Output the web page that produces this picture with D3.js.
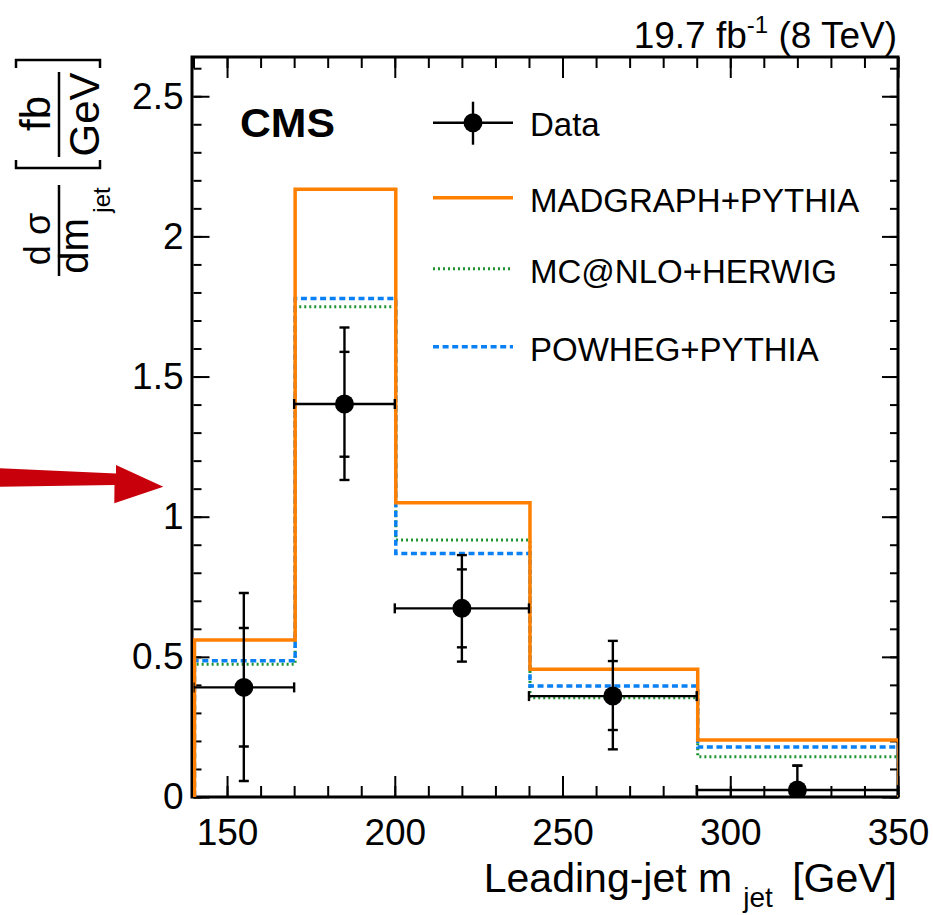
<!DOCTYPE html>
<html>
<head>
<meta charset="utf-8">
<script src="https://cdn.jsdelivr.net/npm/d3@7"></script>
<style>
  body { margin: 0; background: #fff; }
  text { font-family: "Liberation Sans", Arial, Helvetica, sans-serif; fill: #000; }
</style>
</head>
<body>
<svg id="chart" width="933" height="915"></svg>
<script>
// Leading-jet mass bins [GeV]
const binEdges = [140, 170, 200, 240, 290, 350];

// Predictions, dsigma/dm [fb/GeV]
const madgraph = [0.560, 2.168, 1.050, 0.456, 0.203];
const mcatnlo  = [0.474, 1.749, 0.917, 0.354, 0.144];
const powheg   = [0.486, 1.778, 0.869, 0.396, 0.178];

// Measured cross sections with stat (inner) and total (outer) bands
const dataX  = [155, 185, 220, 265, 320];
const dataY  = [0.391, 1.402, 0.673, 0.360, 0.025];
const statLo = [0.180, 1.214, 0.534, 0.239, 0.000];
const statHi = [0.603, 1.588, 0.812, 0.485, 0.112];
const totLo  = [0.057, 1.131, 0.483, 0.170, 0.000];
const totHi  = [0.728, 1.675, 0.863, 0.557, 0.112];

const xTicks = [150, 200, 250, 300, 350];
const yTicks = [0, 0.5, 1, 1.5, 2, 2.5];
const xMinor = d3.range(140, 351, 10);
const yMinor = d3.range(0, 2.65, 0.1);

const legendLabels = ["Data", "MADGRAPH+PYTHIA", "MC@NLO+HERWIG", "POWHEG+PYTHIA"];

const colors = { madgraph: "#ff8000", mcatnlo: "#1e9432", powheg: "#0a80f5", arrow: "#c8000b" };

const svg = d3.select("#chart");
const L = 193.5, R = 898, T = 57, B = 797;

const x = d3.scaleLinear().domain([140, 350]).range([L, R]);
const y = d3.scaleLinear().domain([0, 2.64]).range([B, T]);

const defs = svg.append("defs");
defs.append("clipPath").attr("id", "plotclip")
  .append("rect").attr("x", L).attr("y", T).attr("width", R - L).attr("height", B - T);
defs.append("clipPath").attr("id", "histclip")
  .append("rect").attr("x", L - 0.5).attr("y", T).attr("width", R - L + 0.5).attr("height", B - T);

// Axes: major and minor ticks pointing inward on all four sides
function styleAxis(g) {
  g.select(".domain").remove();
  g.selectAll(".tick line").attr("stroke", "#000").attr("stroke-width", 2);
  g.selectAll("text").style("font-size", "37px").attr("fill", "#000");
}
svg.append("g").attr("transform", `translate(0,${B})`)
  .call(d3.axisBottom(x).tickValues(xMinor).tickSize(-11).tickFormat("")).call(styleAxis);
svg.append("g").attr("transform", `translate(0,${B})`)
  .call(d3.axisBottom(x).tickValues(xTicks).tickSize(-21).tickPadding(22).tickFormat(d3.format("d"))).call(styleAxis);
svg.append("g").attr("transform", `translate(0,${T})`)
  .call(d3.axisTop(x).tickValues(xMinor).tickSize(-11).tickFormat("")).call(styleAxis);
svg.append("g").attr("transform", `translate(0,${T})`)
  .call(d3.axisTop(x).tickValues(xTicks).tickSize(-21).tickFormat("")).call(styleAxis);

svg.append("g").attr("transform", `translate(${L},0)`)
  .call(d3.axisLeft(y).tickValues(yMinor).tickSize(-8).tickFormat("")).call(styleAxis);
svg.append("g").attr("transform", `translate(${L},0)`)
  .call(d3.axisLeft(y).tickValues(yTicks).tickSize(-16).tickPadding(10).tickFormat(d => String(d))).call(styleAxis);
svg.append("g").attr("transform", `translate(${R},0)`)
  .call(d3.axisRight(y).tickValues(yMinor).tickSize(-8).tickFormat("")).call(styleAxis);
svg.append("g").attr("transform", `translate(${R},0)`)
  .call(d3.axisRight(y).tickValues(yTicks).tickSize(-16).tickFormat("")).call(styleAxis);

// Frame (left edge sits just outside the first bin edge)
svg.append("rect").attr("x", L - 1.5).attr("y", T).attr("width", R - L + 1.5).attr("height", B - T)
  .attr("fill", "none").attr("stroke", "#000").attr("stroke-width", 3);

// Histogram outline as step path through bin edges
function stepPoints(vals) {
  const pts = [[binEdges[0], 0]];
  vals.forEach((v, i) => { pts.push([binEdges[i], v]); pts.push([binEdges[i + 1], v]); });
  pts.push([binEdges[binEdges.length - 1], 0]);
  return pts;
}
const stepLine = d3.line().x(d => x(d[0]) + 1).y(d => y(d[1]));

const hist = svg.append("g").attr("clip-path", "url(#histclip)");
hist.append("path").attr("d", stepLine(stepPoints(mcatnlo)))
  .attr("fill", "none").attr("stroke", colors.mcatnlo).attr("stroke-width", 3)
  .attr("stroke-dasharray", "2,3");
hist.append("path").attr("d", stepLine(stepPoints(powheg)))
  .attr("fill", "none").attr("stroke", colors.powheg).attr("stroke-width", 3.5)
  .attr("stroke-dasharray", "6,3.6");
hist.append("path").attr("d", stepLine(stepPoints(madgraph)))
  .attr("fill", "none").attr("stroke", colors.madgraph).attr("stroke-width", 3.5);

// Data points with error bars
const plot = svg.append("g").attr("clip-path", "url(#plotclip)");
const pts = plot.append("g").attr("stroke", "#000").attr("stroke-width", 2.4);
const cap = 5;
dataX.forEach((xv, i) => {
  const cx = x(xv), cy = y(dataY[i]);
  const x0 = x(binEdges[i]), x1 = x(binEdges[i + 1]);
  pts.append("line").attr("x1", x0).attr("x2", x1).attr("y1", cy).attr("y2", cy);
  [x0, x1].forEach(xx => pts.append("line").attr("x1", xx).attr("x2", xx).attr("y1", cy - cap).attr("y2", cy + cap));
  pts.append("line").attr("x1", cx).attr("x2", cx).attr("y1", y(totLo[i])).attr("y2", y(totHi[i]));
  [statLo[i], statHi[i], totLo[i], totHi[i]].forEach(v =>
    pts.append("line").attr("x1", cx - cap).attr("x2", cx + cap).attr("y1", y(v)).attr("y2", y(v)));
  plot.append("circle").attr("cx", cx).attr("cy", cy).attr("r", 9.5).attr("fill", "#000");
});

// Luminosity / energy label
const lumi = svg.append("text").attr("x", 897).attr("y", 48).attr("text-anchor", "end").style("font-size", "37px");
lumi.append("tspan").text("19.7 fb");
lumi.append("tspan").attr("dy", -15).style("font-size", "24px").text("-1");
lumi.append("tspan").attr("dy", 15).text(" (8 TeV)");

// CMS label
svg.append("text").attr("x", 240).attr("y", 137).style("font-size", "40px").style("font-weight", "bold")
  .attr("textLength", 95).attr("lengthAdjust", "spacingAndGlyphs").text("CMS");

// Legend
const legX0 = 433, legX1 = 513, legText = 530;
const legBase = [136, 211.7, 282.7, 360.7];
const leg = svg.append("g");
legendLabels.forEach((lab, i) => {
  leg.append("text").attr("x", legText).attr("y", legBase[i]).style("font-size", "33px").text(lab);
});
const ly0 = legBase[0] - 13.3, lxc = (legX0 + legX1) / 2;
leg.append("line").attr("x1", legX0).attr("x2", legX1).attr("y1", ly0).attr("y2", ly0).attr("stroke", "#000").attr("stroke-width", 2.4);
leg.append("line").attr("x1", lxc).attr("x2", lxc).attr("y1", ly0 - 21).attr("y2", ly0 + 22).attr("stroke", "#000").attr("stroke-width", 2.4);
leg.append("circle").attr("cx", lxc).attr("cy", ly0).attr("r", 9.5).attr("fill", "#000");
const legLine = (i, color, w, dash) => {
  const yy = legBase[i] - 14;
  leg.append("line").attr("x1", legX0).attr("x2", legX1).attr("y1", yy).attr("y2", yy)
    .attr("stroke", color).attr("stroke-width", w).attr("stroke-dasharray", dash);
};
legLine(1, colors.madgraph, 3.5, null);
legLine(2, colors.mcatnlo, 3, "2,3");
legLine(3, colors.powheg, 3.5, "6,3.6");

// x-axis title
const xt = svg.append("text").attr("x", 897).attr("y", 892).attr("text-anchor", "end").style("font-size", "41px");
xt.append("tspan").text("Leading-jet m");
xt.append("tspan").attr("dx", 11).attr("dy", 15).style("font-size", "28px").text("jet");
xt.append("tspan").attr("dx", 8).attr("dy", -15).text(" [GeV]");

// y-axis title: d sigma / d m_jet  [fb / GeV], rotated
const yt = svg.append("g");
const rot = (g, bx, cy) => g.attr("transform", `translate(${bx},${cy}) rotate(-90)`).attr("text-anchor", "middle");
rot(yt.append("text"), 50, 239).style("font-size", "36px").text("d σ");
rot(yt.append("text"), 88, 246).style("font-size", "40px").text("dm");
rot(yt.append("text"), 110, 200).style("font-size", "24px").text("jet");
yt.append("line").attr("x1", 59).attr("x2", 59).attr("y1", 185).attr("y2", 276).attr("stroke", "#000").attr("stroke-width", 2.5);
rot(yt.append("text"), 50, 113.5).style("font-size", "42px").text("fb");
rot(yt.append("text"), 99, 114.5).style("font-size", "42px").text("GeV");
yt.append("line").attr("x1", 59).attr("x2", 59).attr("y1", 72).attr("y2", 157).attr("stroke", "#000").attr("stroke-width", 2.5);
yt.append("path").attr("d", "M16,160 L16,168 L100,168 L100,160 M16,68 L16,60 L100,60 L100,68")
  .attr("fill", "none").attr("stroke", "#000").attr("stroke-width", 2.5);

// Red arrow annotation
svg.append("path")
  .attr("d", "M0,468.3 L116,473.5 L116,465 L163.3,486.7 L114.3,503.3 L114.5,485 L0,486.7 Z")
  .attr("fill", colors.arrow);
</script>
</body>
</html>
